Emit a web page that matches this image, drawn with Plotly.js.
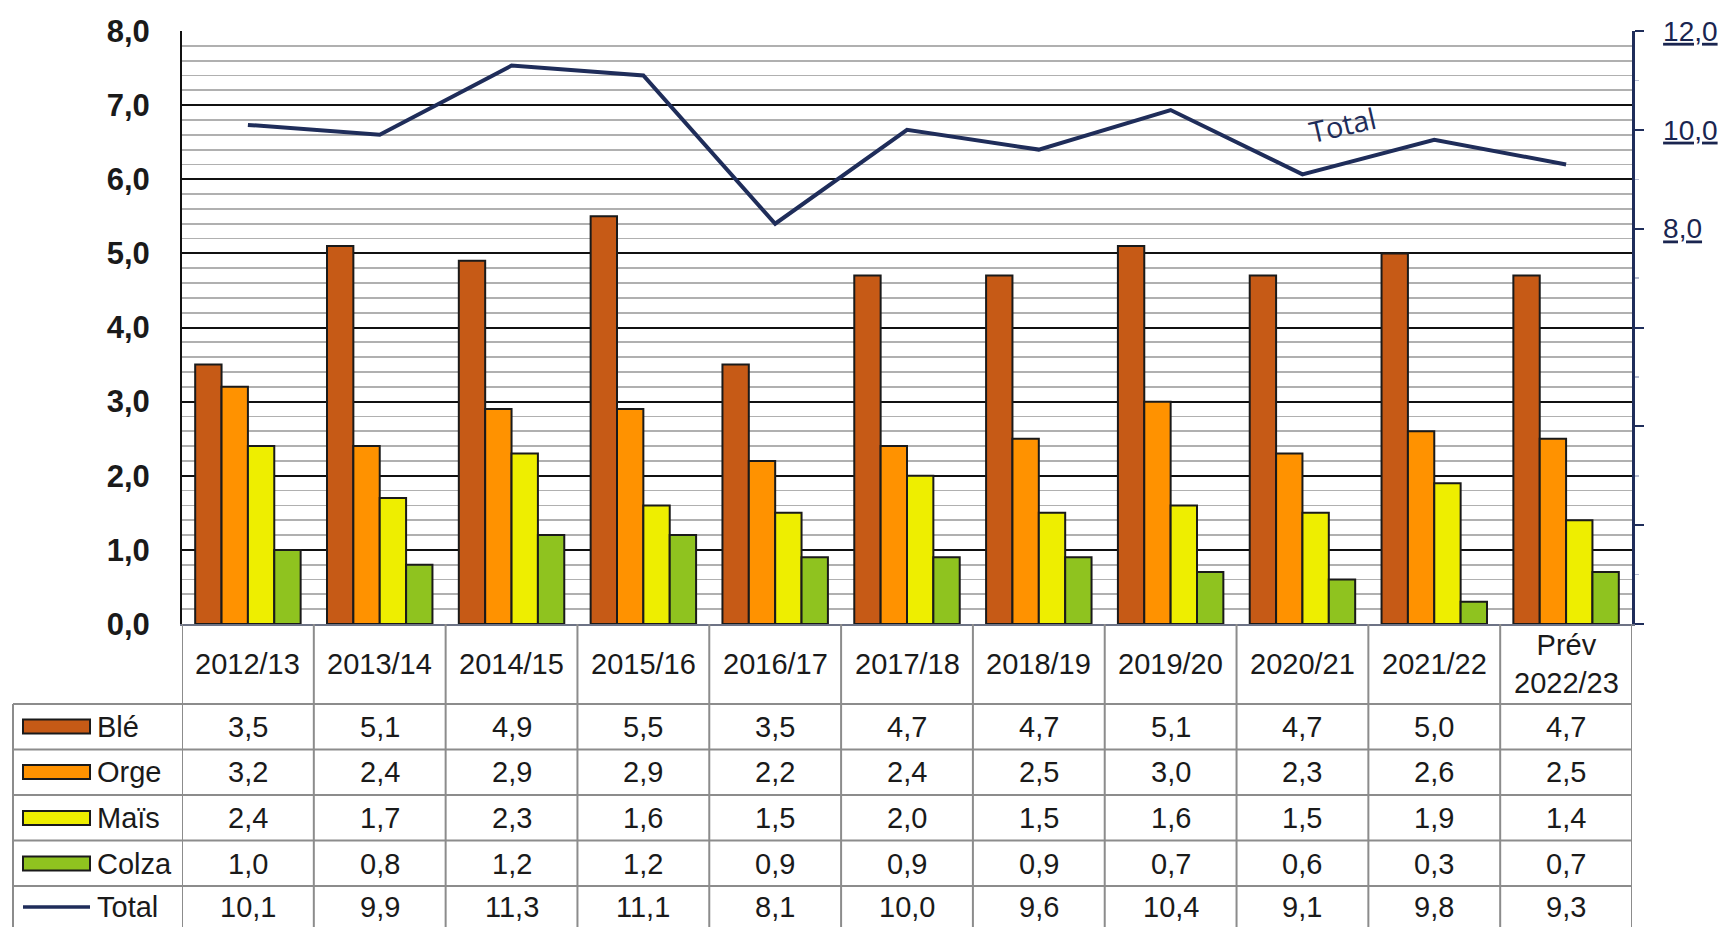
<!DOCTYPE html>
<html>
<head>
<meta charset="utf-8">
<script src="https://cdn.plot.ly/plotly-3.0.1.min.js"></script>
<style>
  html, body { margin: 0; padding: 0; background: #fff; }
  #chart { width: 1724px; height: 927px; }
</style>
</head>
<body>
<div id="chart"></div>
<script>
// ---- data ----
const categories = ['2012/13','2013/14','2014/15','2015/16','2016/17','2017/18','2018/19','2019/20','2020/21','2021/22','Prév 2022/23'];
const headerLabels = ['2012/13','2013/14','2014/15','2015/16','2016/17','2017/18','2018/19','2019/20','2020/21','2021/22','Prév<br>2022/23'];
const ble   = [3.5, 5.1, 4.9, 5.5, 3.5, 4.7, 4.7, 5.1, 4.7, 5.0, 4.7];
const orge  = [3.2, 2.4, 2.9, 2.9, 2.2, 2.4, 2.5, 3.0, 2.3, 2.6, 2.5];
const mais  = [2.4, 1.7, 2.3, 1.6, 1.5, 2.0, 1.5, 1.6, 1.5, 1.9, 1.4];
const colza = [1.0, 0.8, 1.2, 1.2, 0.9, 0.9, 0.9, 0.7, 0.6, 0.3, 0.7];
const total = [10.1, 9.9, 11.3, 11.1, 8.1, 10.0, 9.6, 10.4, 9.1, 9.8, 9.3];
const seriesNames = ['Blé', 'Orge', 'Maïs', 'Colza', 'Total'];
const leftTicks = [0,1,2,3,4,5,6,7,8];
const rightTickVals = [0,2,4,6,8,10,12];
const rightTickText = ['','','','','8,0','10,0','12,0'];

// ---- style ----
const colors = ['#c65a16', '#ff9200', '#eeee00', '#8fc31f', '#1f2d5a'];
const W = 1724, H = 927;
const M = {l: 182, r: 92, t: 31, b: 303};
const plotH = H - M.t - M.b;
const plotW = W - M.l - M.r;
const bottomPx = H - M.b;
const py = p => (bottomPx - p) / plotH;      // pixel y -> paper y
const px = p => (p - M.l) / plotW;           // pixel x -> paper x
const fontFam = '"Liberation Sans", Arial, sans-serif';
const gridGray = '#8c8c8c';

const seriesVals = [ble, orge, mais, colza];
const traces = seriesVals.map((vals, i) => ({
  type: 'bar', name: seriesNames[i], x: categories, y: vals,
  marker: {color: colors[i], line: {color: '#1a1a1a', width: 2}},
  showlegend: false, hoverinfo: 'x+y+name'
}));
traces.push({
  type: 'scatter', mode: 'lines', name: 'Total', x: categories, y: total,
  yaxis: 'y2', line: {color: colors[4], width: 4},
  showlegend: false
});

// ---- table (header row + rows below plot) ----
const headerTop = bottomPx, headerBottom = 704;
const rowLines = [704, 749.5, 795, 840.5, 886];
const rowCenters = [726.5, 772, 818, 863.5, 907];
const tableLeftPx = 13, figBottom = 940;
const shapes = [];
const annotations = [];

// vertical lines at category boundaries
for (let i = 0; i <= categories.length; i++) {
  shapes.push({type: 'line', xref: 'x', yref: 'paper', x0: i - 0.5, x1: i - 0.5,
    y0: py(headerTop), y1: py(figBottom), line: {color: gridGray, width: 2}, layer: 'above'});
}
// legend column left border
shapes.push({type: 'line', xref: 'paper', yref: 'paper', x0: px(tableLeftPx), x1: px(tableLeftPx),
  y0: py(headerBottom), y1: py(figBottom), line: {color: gridGray, width: 2}});
// horizontal row lines
rowLines.forEach(r => shapes.push({type: 'line', xref: 'paper', yref: 'paper',
  x0: px(tableLeftPx), x1: 1, y0: py(r), y1: py(r), line: {color: gridGray, width: 2}}));

// header labels
headerLabels.forEach((lab, i) => annotations.push({
  xref: 'x', yref: 'paper', x: i, y: py((headerTop + headerBottom) / 2),
  text: lab, showarrow: false, xanchor: 'center', yanchor: 'middle', align: 'center',
  font: {family: fontFam, size: 29, color: '#1a1a1a'}
}));

// values
const allRows = [ble, orge, mais, colza, total];
const fmt = v => v.toFixed(1).replace('.', ',');
allRows.forEach((vals, r) => {
  vals.forEach((v, i) => annotations.push({
    xref: 'x', yref: 'paper', x: i, y: py(rowCenters[r]),
    text: fmt(v), showarrow: false, xanchor: 'center', yanchor: 'middle',
    font: {family: fontFam, size: 29, color: '#1a1a1a'}
  }));
  // legend swatch
  if (r < 4) {
    shapes.push({type: 'rect', xref: 'paper', yref: 'paper',
      x0: px(23), x1: px(90), y0: py(rowCenters[r] - 7), y1: py(rowCenters[r] + 7),
      fillcolor: colors[r], line: {color: '#1a1a1a', width: 2}});
  } else {
    shapes.push({type: 'line', xref: 'paper', yref: 'paper',
      x0: px(23), x1: px(90), y0: py(rowCenters[r]), y1: py(rowCenters[r]),
      line: {color: colors[4], width: 3.5}});
  }
  annotations.push({
    xref: 'paper', yref: 'paper', x: px(95), y: py(rowCenters[r]),
    text: seriesNames[r], showarrow: false, xanchor: 'left', yanchor: 'middle',
    font: {family: fontFam, size: 29, color: '#1a1a1a'}
  });
});

// "Total" label on the line
annotations.push({
  xref: 'x', yref: 'y2', x: 8.3, y: 10.1, text: 'Total', showarrow: false,
  textangle: -13, font: {family: '"Open Sans", "Noto Sans", sans-serif', size: 29, color: colors[4]}
});

const layout = {
  width: W, height: H,
  margin: M,
  paper_bgcolor: '#ffffff', plot_bgcolor: '#ffffff',
  separators: ', ',
  barmode: 'group', bargap: 0.2, bargroupgap: 0,
  showlegend: false,
  xaxis: {
    type: 'category', range: [-0.5, categories.length - 0.5],
    showticklabels: false, ticks: '', showgrid: false, zeroline: false,
    showline: true, linecolor: '#6d7385', linewidth: 2, fixedrange: true
  },
  yaxis: {
    range: [0, 8], tickvals: leftTicks, tickformat: '.1f',
    showgrid: true, gridcolor: '#111111', gridwidth: 2,
    minor: {dtick: 0.2, showgrid: true, gridcolor: '#b0b0b0', gridwidth: 1.8},
    zeroline: false, showline: true, linecolor: '#111111', linewidth: 2,
    ticks: '', ticklabelstandoff: 24,
    tickfont: {family: fontFam, size: 31, color: '#1a1a1a', weight: 'bold'},
    fixedrange: true
  },
  yaxis2: {
    overlaying: 'y', side: 'right', range: [0, 12],
    tickvals: rightTickVals,
    ticktext: rightTickText.map(t => t ? '<span style="text-decoration:underline">' + t + '</span>' : ''),
    showgrid: false, zeroline: false,
    showline: true, linecolor: '#1f2d5a', linewidth: 2.5,
    ticks: 'outside', ticklen: 9, tickwidth: 2, tickcolor: '#1f2d5a',
    minor: {dtick: 1, ticks: 'outside', ticklen: 4, tickcolor: '#b5bbd0', tickwidth: 1.5},
    ticklabelstandoff: 14,
    tickfont: {family: fontFam, size: 28, color: '#1a2550'},
    fixedrange: true
  },
  shapes: shapes,
  annotations: annotations
};

Plotly.newPlot('chart', traces, layout, {displayModeBar: false, staticPlot: true});
</script>
</body>
</html>
